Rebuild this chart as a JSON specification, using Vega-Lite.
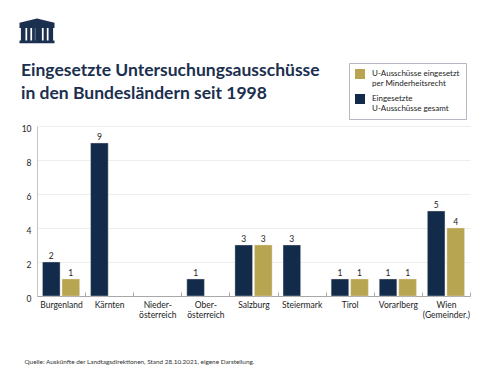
{
"$schema":"https://vega.github.io/schema/vega-lite/v6.json",
"width":433,"height":170,
"autosize":{"type":"none"},
"padding":{"left":37,"top":126,"right":30,"bottom":79},
"background":"white",
"title":{"text":["Eingesetzte Untersuchungsausschüsse","in den Bundesländern seit 1998"],"anchor":"start","frame":"group","dx":-16,"offset":-84,"font":"Lato","fontSize":17.5,"fontWeight":"bold","color":"#1b2f4f","lineHeight":23},
"config":{"view":{"stroke":null},"font":"Lato"},
"data":{"values":[
{"Land":"Burgenland","Reihe":"gesamt","Anzahl":2},
{"Land":"Burgenland","Reihe":"minderheit","Anzahl":1},
{"Land":"Kärnten","Reihe":"gesamt","Anzahl":9},
{"Land":"Ober-|österreich","Reihe":"gesamt","Anzahl":1},
{"Land":"Salzburg","Reihe":"gesamt","Anzahl":3},
{"Land":"Salzburg","Reihe":"minderheit","Anzahl":3},
{"Land":"Steiermark","Reihe":"gesamt","Anzahl":3},
{"Land":"Tirol","Reihe":"gesamt","Anzahl":1},
{"Land":"Tirol","Reihe":"minderheit","Anzahl":1},
{"Land":"Vorarlberg","Reihe":"gesamt","Anzahl":1},
{"Land":"Vorarlberg","Reihe":"minderheit","Anzahl":1},
{"Land":"Wien|(Gemeinder.)","Reihe":"gesamt","Anzahl":5},
{"Land":"Wien|(Gemeinder.)","Reihe":"minderheit","Anzahl":4}
]},
"encoding":{
"x":{"field":"Land","type":"nominal","sort":null,"scale":{"domain":["Burgenland","Kärnten","Nieder-|österreich","Ober-|österreich","Salzburg","Steiermark","Tirol","Vorarlberg","Wien|(Gemeinder.)"],"paddingInner":0,"paddingOuter":0},
"axis":{"title":"Quelle: Auskünfte der Landtagsdirektionen, Stand 28.10.2021, eigene Darstellung.","titleFont":"Lato","titleFontSize":6.4,"titleFontWeight":"normal","titleColor":"#333333","titleAnchor":"start","titleAlign":"left","titleBaseline":"middle","titleX":-13,"titleY":65,"labelAngle":0,"labelFont":"Lato","labelFontSize":8.5,"labelColor":"#222222","labelPadding":8,"labelLineHeight":10,"labelExpr":"split(datum.label,'|')","tickBand":"extent","tickSize":-4,"tickColor":"#a8a8a8","domainColor":"#a8a8a8","labelOverlap":false}},
"y":{"field":"Anzahl","type":"quantitative","scale":{"domain":[0,10],"nice":false},
"axis":{"title":null,"values":[0,2,4,6,8,10],"grid":true,"gridColor":"#eeeeee","ticks":false,"domainColor":"#c4c4c4","labelFont":"Lato","labelFontSize":8.5,"labelColor":"#222222","labelPadding":6,"labelBaseline":"middle","labelOffset":2}},
"xOffset":{"field":"Reihe","type":"nominal","scale":{"domain":["gesamt","minderheit"],"paddingInner":0.1,"paddingOuter":0.28}}
},
"layer":[
{"mark":{"type":"bar","stroke":"#e8e6d8","strokeWidth":0.4},
"encoding":{"color":{"field":"Reihe","type":"nominal","scale":{"domain":["minderheit","gesamt"],"range":["#b8a552","#132b4a"]},
"legend":{"title":null,"orient":"none","legendX":312,"legendY":-63,"fillColor":"white","strokeColor":"#b4b9c4","padding":6,"symbolType":"square","symbolSize":100,"symbolStrokeWidth":0,"labelFont":"Lato","labelFontSize":8,"labelColor":"#222222","labelOffset":7,"labelLineHeight":10.5,"rowPadding":6,"labelExpr":"datum.label=='gesamt'?['Eingesetzte','U-Ausschüsse gesamt']:['U-Ausschüsse eingesetzt','per Minderheitsrecht']"}}}},
{"mark":{"type":"text","dy":-6.5,"font":"Lato","fontSize":8.5,"color":"#222222"},"encoding":{"text":{"field":"Anzahl","type":"quantitative"}}},
{"data":{"values":[{"Land":"Burgenland","Hoehe":15.6}]},
"mark":{"type":"point","filled":true,"opacity":1,"color":"#1b2f4f","size":1225,"strokeWidth":0,"shape":"M-1 -.46L0 -.71L1 -.46L1 -.16L-1 -.16ZM-.92 -.16H-.66V.56H-.92ZM-.56 -.16H-.38V.56H-.56ZM-.28 -.16H-.12V.56H-.28ZM-.1 -.16L.02 -.7L.1 -.16L.28 -.16V.56H-.1ZM.38 -.16H.56V.56H.38ZM.66 -.16H.92V.56H.66ZM-1 .56H1V.71H-1Z"},
"encoding":{"x":{"field":"Land","type":"nominal","bandPosition":0},"y":{"field":"Hoehe","type":"quantitative"},"xOffset":{"value":0}}}
]
}
